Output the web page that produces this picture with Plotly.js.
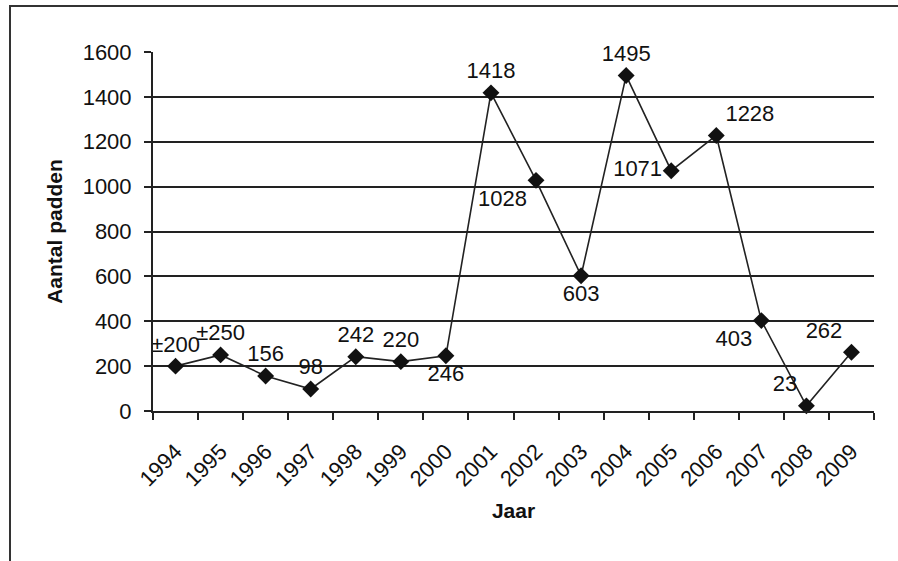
<!DOCTYPE html>
<html>
<head>
<meta charset="utf-8">
<script src="https://cdn.plot.ly/plotly-3.0.1.min.js"></script>
<style>
  html, body { margin: 0; padding: 0; background: #fff; }
  #wrap { position: relative; width: 898px; height: 561px; }
  #chart { position: absolute; left: 0; top: 0; width: 898px; height: 561px; }
  #frame { position: absolute; left: 9px; top: 5px; width: 889px; height: 556px;
           border-left: 2px solid #333; border-top: 2px solid #333; pointer-events: none; }
</style>
</head>
<body>
<div id="wrap">
  <div id="chart"></div>
  <div id="frame"></div>
</div>
<script>
// Data
var years = ['1994','1995','1996','1997','1998','1999','2000','2001','2002','2003','2004','2005','2006','2007','2008','2009'];
var padden = [200, 250, 156, 98, 242, 220, 246, 1418, 1028, 603, 1495, 1071, 1228, 403, 23, 262];
var labels = ['±200','±250','156','98','242','220','246','1418','1028','603','1495','1071','1228','403','23','262'];
var yTicks = [0, 200, 400, 600, 800, 1000, 1200, 1400, 1600];

// Label placement (style)
var labelPos = ['top center','top center','top center','top center','top center','top center','bottom center',
                'top center','bottom left','bottom center','top center','middle left','top right',
                'bottom left','top left','top left'];

var trace = {
  x: years,
  y: padden,
  text: labels,
  mode: 'lines+markers+text',
  textposition: labelPos,
  textfont: { family: 'Liberation Sans, Arial, sans-serif', size: 22, color: '#111' },
  line: { color: '#222', width: 1.6 },
  marker: { symbol: 'diamond', size: 13, color: '#111' },
  cliponaxis: false,
  hoverinfo: 'x+y'
};

var layout = {
  width: 898, height: 561,
  margin: { l: 153, r: 24, t: 52, b: 150 },
  paper_bgcolor: '#fff', plot_bgcolor: '#fff',
  showlegend: false,
  font: { family: 'Liberation Sans, Arial, sans-serif', color: '#111' },
  xaxis: {
    type: 'category',
    range: [-0.5, years.length - 0.5],
    tickson: 'boundaries',
    ticks: 'outside', ticklen: 7, tickwidth: 2, tickcolor: '#222',
    showline: true, linecolor: '#222', linewidth: 2,
    showgrid: false,
    tickangle: -45,
    ticklabelstandoff: 17,
    tickfont: { size: 22, color: '#111' },
    title: { text: '<b>Jaar</b>', font: { size: 21, color: '#111' }, standoff: 13 }
  },
  yaxis: {
    range: [0, 1600],
    tickvals: yTicks,
    ticks: 'outside', ticklen: 7, tickwidth: 2, tickcolor: '#222',
    showline: true, linecolor: '#222', linewidth: 2,
    showgrid: true, gridcolor: '#222', gridwidth: 2,
    zeroline: false,
    ticklabelstandoff: 8,
    tickfont: { size: 22, color: '#111' },
    title: { text: '<b>Aantal padden</b>', font: { size: 21, color: '#111' }, standoff: 14 }
  }
};

Plotly.newPlot('chart', [trace], layout, { displayModeBar: false, staticPlot: true });
</script>
</body>
</html>
